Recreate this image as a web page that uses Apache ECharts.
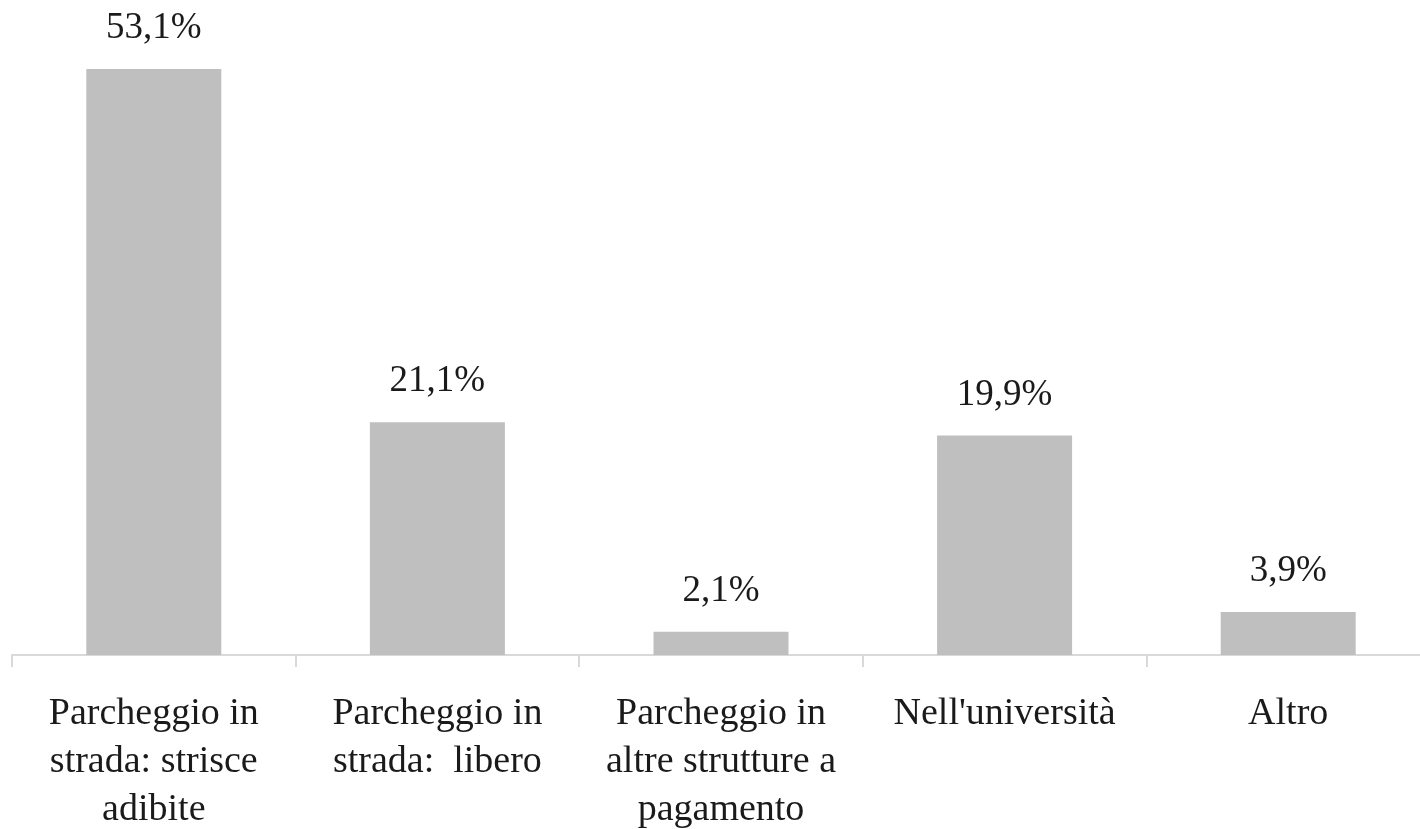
<!DOCTYPE html>
<html>
<head>
<meta charset="utf-8">
<script src="https://cdn.jsdelivr.net/npm/echarts@6/dist/echarts.min.js"></script>
<style>
  html, body { margin: 0; padding: 0; background: #fff; }
  #chart { width: 1420px; height: 829px; }
</style>
</head>
<body>
<div id="chart"></div>
<script>
// categorie e percentuali
var categories = [
  "Parcheggio in\nstrada: strisce\nadibite",
  "Parcheggio in\nstrada:  libero",
  "Parcheggio in\naltre strutture a\npagamento",
  "Nell'università",
  "Altro"
];
var values = [53.1, 21.1, 2.1, 19.9, 3.9];

var font = "'Liberation Serif', 'DejaVu Serif', serif";

var myChart = echarts.init(document.getElementById("chart"));
var option = {
  animation: false,
  grid: {
    left: 12,
    right: -10,
    top: 48,
    bottom: 174,
    outerBoundsMode: "none"
  },
  xAxis: {
    type: "category",
    data: categories,
    axisLine: { lineStyle: { color: "#d9d9d9", width: 2 } },
    axisTick: { show: true, length: 12, lineStyle: { color: "#d9d9d9", width: 2 } },
    axisLabel: {
      interval: 0,
      margin: 35,
      color: "#1a1a1a",
      fontFamily: font,
      fontSize: 38,
      lineHeight: 48
    }
  },
  yAxis: {
    type: "value",
    min: 0,
    max: 55,
    show: false,
    splitLine: { show: false }
  },
  series: [
    {
      type: "bar",
      data: values,
      barWidth: 135,
      itemStyle: { color: "#bfbfbf" },
      label: {
        show: true,
        position: "top",
        distance: 22,
        color: "#1a1a1a",
        fontFamily: font,
        fontSize: 37,
        formatter: function (p) {
          return p.value.toFixed(1).replace(".", ",") + "%";
        }
      }
    }
  ]
};
myChart.setOption(option);
</script>
</body>
</html>
